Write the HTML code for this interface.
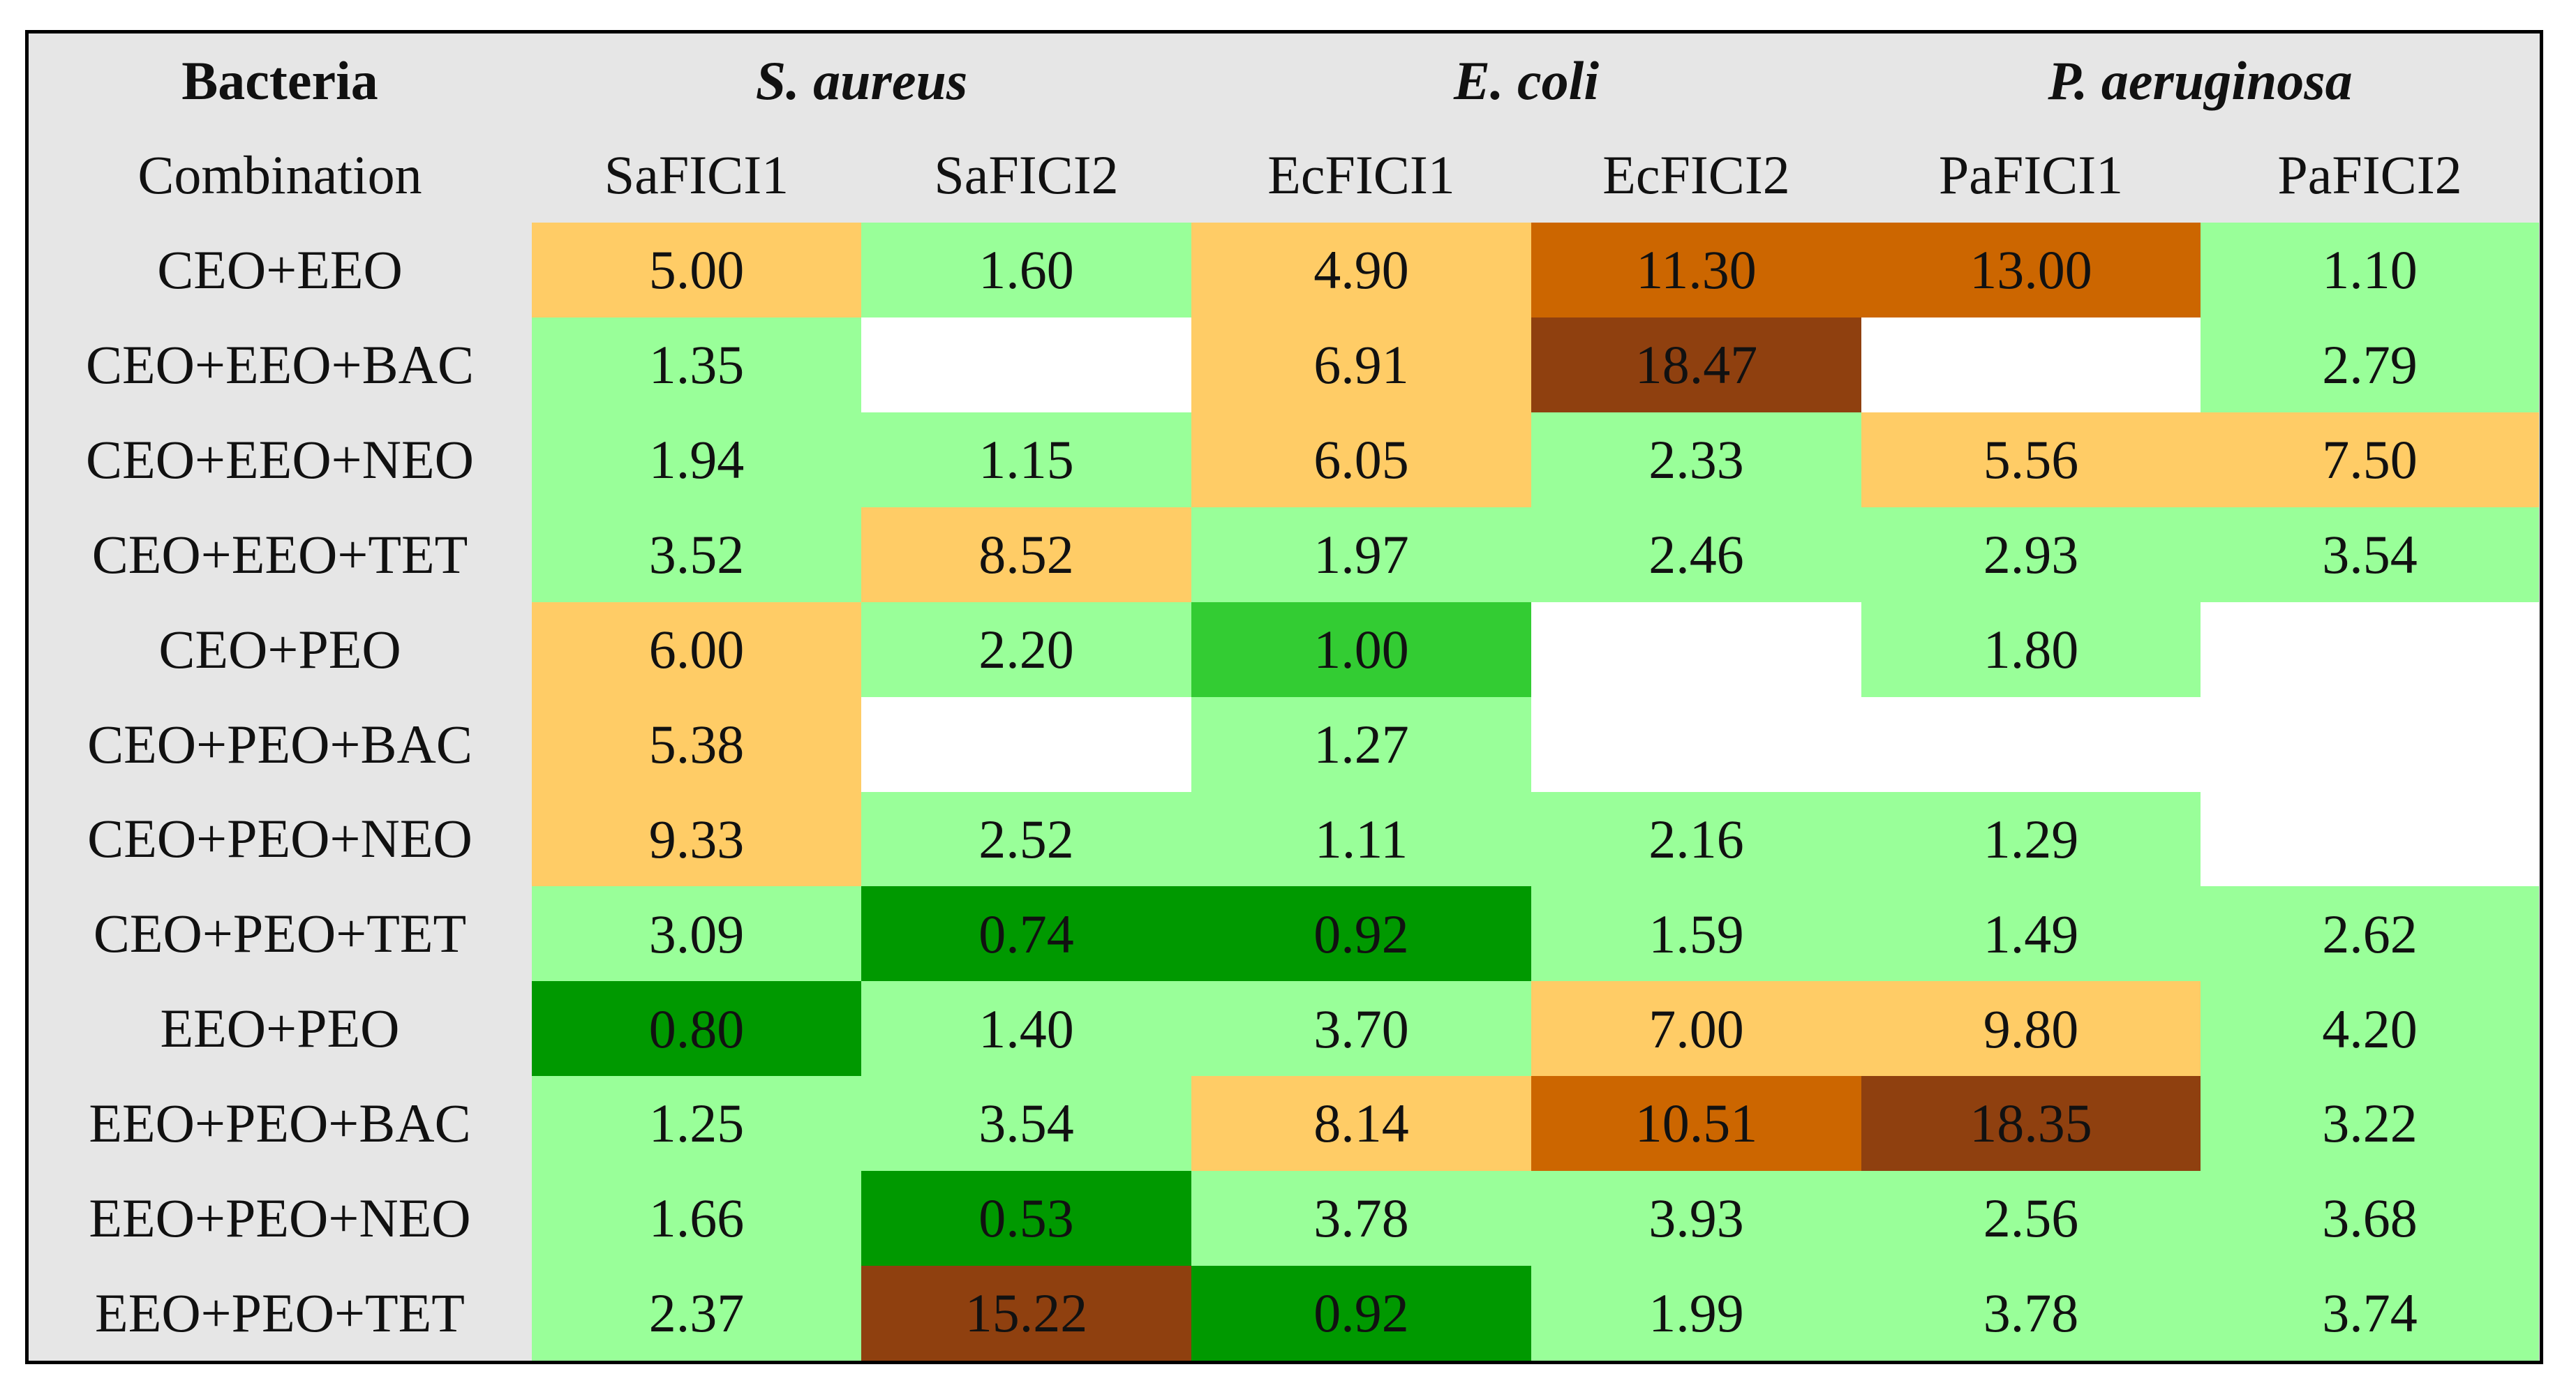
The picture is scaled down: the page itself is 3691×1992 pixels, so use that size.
<!DOCTYPE html>
<html><head><meta charset="utf-8">
<style>
html,body{margin:0;padding:0;background:#fff;}
#wrap{position:relative;width:3691px;height:1992px;overflow:hidden;font-family:"Liberation Serif",serif;color:#111;}
#frame{position:absolute;left:36px;top:43px;width:3598px;height:1902px;border:5px solid #000;background:#e6e6e6;}
.c{position:absolute;display:flex;align-items:center;justify-content:center;font-size:78px;white-space:nowrap;}
</style></head>
<body>
<div id="wrap">
<div id="frame"></div>
</div>
<script>
const species = ["S. aureus","E. coli","P. aeruginosa"];
const columns = ["SaFICI1","SaFICI2","EcFICI1","EcFICI2","PaFICI1","PaFICI2"];
const combos = ["CEO+EEO","CEO+EEO+BAC","CEO+EEO+NEO","CEO+EEO+TET","CEO+PEO","CEO+PEO+BAC","CEO+PEO+NEO","CEO+PEO+TET","EEO+PEO","EEO+PEO+BAC","EEO+PEO+NEO","EEO+PEO+TET"];
const saFICI1 = [5.00,1.35,1.94,3.52,6.00,5.38,9.33,3.09,0.80,1.25,1.66,2.37];
const saFICI2 = [1.60,null,1.15,8.52,2.20,null,2.52,0.74,1.40,3.54,0.53,15.22];
const ecFICI1 = [4.90,6.91,6.05,1.97,1.00,1.27,1.11,0.92,3.70,8.14,3.78,0.92];
const ecFICI2 = [11.30,18.47,2.33,2.46,null,null,2.16,1.59,7.00,10.51,3.93,1.99];
const paFICI1 = [13.00,null,5.56,2.93,1.80,null,1.29,1.49,9.80,18.35,2.56,3.78];
const paFICI2 = [1.10,2.79,7.50,3.54,null,null,null,2.62,4.20,3.22,3.68,3.74];
const series = [saFICI1,saFICI2,ecFICI1,ecFICI2,paFICI1,paFICI2];

const wrap = document.getElementById('wrap');
const colEdges = [40,762,1234,1707,2194,2667,3153,3638];
const top0 = 48, hdrH = 135.5, dataTop = 319, rowH = (1950-319)/12;
function colX(i){return colEdges[i+1];}
function colW(i){return colEdges[i+2]-colEdges[i+1];}
function rowY(r){return dataTop + r*rowH;}
function colorFor(v){
  if(v===null) return '#ffffff';
  if(v<1) return '#009900';
  if(v===1) return '#33cc33';
  if(v<=4.5) return '#99ff99';
  if(v<10) return '#ffcc66';
  if(v<15) return '#cc6600';
  return '#8f400f';
}
function cell(x,y,w,h,text,bg,name,style){
  const d=document.createElement('div');
  d.className='c';
  d.style.left=x+'px';d.style.top=y+'px';d.style.width=w+'px';d.style.height=h+'px';
  if(bg) d.style.background=bg;
  if(style) Object.assign(d.style,style);
  d.textContent=text;
  
  
  wrap.appendChild(d);
  return d;
}
cell(colEdges[0],top0,colEdges[1]-colEdges[0],hdrH,'Bacteria',null,'bacteria-header',{fontWeight:'bold'});
cell(colEdges[0],top0+hdrH,colEdges[1]-colEdges[0],hdrH,'Combination',null,'combination-header');
species.forEach((s,i)=>{
  const x=colX(i*2), w=colX(i*2+1)+colW(i*2+1)-x;
  cell(x,top0,w,hdrH,s,null,'species-header-'+(i+1),{fontWeight:'bold',fontStyle:'italic'});
});
columns.forEach((c,i)=>{
  cell(colX(i),top0+hdrH,colW(i),hdrH,c,null,'column-header-'+c.toLowerCase());
});
combos.forEach((c,r)=>{
  cell(colEdges[0],rowY(r),colEdges[1]-colEdges[0],rowH,c,null,'row-label-'+(r+1));
  series.forEach((s,i)=>{
    const v=s[r];
    const d=cell(colX(i),rowY(r),colW(i),rowH+0.5,v===null?'':v.toFixed(2),colorFor(v),'cell');
    
  });
});
</script>
</body></html>
